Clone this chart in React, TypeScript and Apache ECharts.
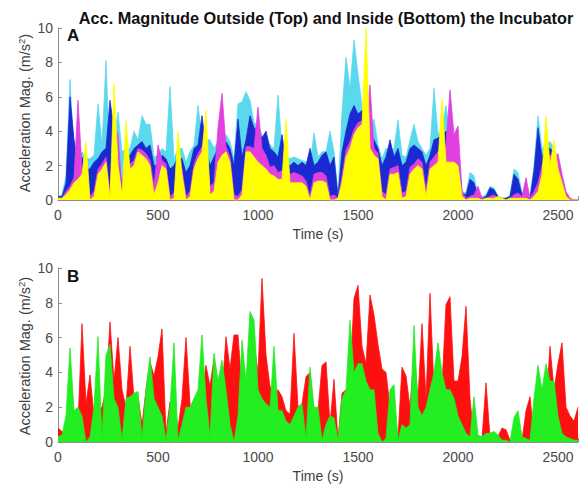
import React, { useEffect, useRef } from "react";
import * as echarts from "echarts";

const SAMPLE_STEP_S = 20;

// Top panel (A): outside the incubator
const yellowA = [
  0.1, 0.1, 0.3, 0.6, 1.0, 1.2, 1.5, 3.4, 0.0, 0.2, 1.5, 1.8, 2.2, 0.1, 6.8, 2.0, 0.3, 4.6, 1.8, 2.0,
  2.8, 2.6, 2.4, 2.0, 0.3, 1.0, 2.0, 1.8, 0.0, 0.1, 4.0, 1.5, 0.0, 0.2, 1.8, 2.4, 2.8, 5.2, 0.3, 0.5,
  2.2, 2.6, 2.8, 2.2, 0.0, 0.0, 0.3, 2.8, 2.8, 2.5, 2.2, 2.0, 1.8, 1.5, 1.4, 1.2, 1.2, 4.7, 1.0, 1.0,
  1.0, 1.0, 0.8, 0.0, 1.0, 1.1, 1.1, 1.0, 0.0, 0.0, 0.1, 1.0, 2.5, 3.0, 3.8, 4.2, 4.4, 10.0, 3.0, 2.6,
  2.4, 0.2, 0.0, 1.5, 1.5, 1.6, 0.1, 0.2, 1.5, 1.8, 2.0, 1.8, 0.2, 1.8, 2.0, 2.2, 5.9, 2.2, 2.2, 2.2,
  2.0, 0.2, 0.0, 0.1, 0.1, 0.1, 0.0, 0.1, 0.1, 0.1, 0.2, 0.1, 0.0, 0.1, 0.1, 0.1, 0.1, 0.1, 0.0, 0.2,
  0.5, 1.5, 4.9, 2.0, 3.5, 1.8, 1.0, 0.2, 0.0, 0.0, 0.0,
];
const magentaA = [
  0.1, 0.1, 0.5, 0.8, 1.3, 5.8, 1.8, 1.0, 0.2, 0.5, 1.8, 2.1, 2.5, 0.4, 4.4, 3.8, 0.5, 1.5, 2.1, 2.3,
  3.0, 2.9, 2.7, 2.3, 0.8, 3.2, 2.3, 2.1, 0.2, 0.4, 1.5, 1.8, 0.2, 0.5, 2.1, 2.7, 3.1, 2.8, 0.8, 1.0,
  4.2, 6.2, 3.1, 2.5, 0.3, 0.2, 0.6, 3.1, 3.1, 3.0, 5.4, 3.0, 2.6, 1.9, 2.0, 1.6, 1.7, 1.6, 1.5, 1.6,
  1.5, 1.4, 1.1, 0.2, 1.5, 1.6, 1.6, 1.4, 0.2, 0.3, 0.1, 1.4, 2.9, 3.4, 4.1, 4.5, 4.6, 4.2, 6.7, 3.0,
  2.7, 0.5, 0.3, 1.8, 1.9, 2.0, 0.4, 0.5, 1.9, 2.1, 2.4, 2.2, 0.6, 2.2, 2.5, 2.8, 3.0, 3.2, 6.4, 3.8,
  4.3, 0.5, 0.1, 0.2, 0.3, 0.8, 0.1, 0.1, 0.2, 0.3, 0.1, 0.1, 0.0, 0.1, 0.3, 0.4, 0.2, 1.3, 0.1, 0.5,
  1.0, 2.0, 2.5, 2.6, 2.4, 2.7, 1.5, 0.5, 0.1, 0.0, 0.0,
];
const blueA = [
  0.2, 0.2, 1.0, 6.0, 3.5, 2.0, 2.5, 1.8, 1.8, 2.2, 2.4, 2.8, 3.0, 5.8, 4.1, 2.5, 0.8, 2.5, 2.6, 3.0,
  3.2, 3.4, 3.0, 3.2, 2.0, 2.0, 2.6, 2.4, 1.8, 2.0, 2.5, 2.4, 1.6, 2.0, 3.0, 3.2, 4.9, 3.0, 2.0, 2.5,
  3.0, 3.2, 3.4, 3.0, 2.0, 4.7, 2.5, 3.5, 4.9, 4.2, 4.0, 3.6, 4.0, 3.0, 2.8, 2.5, 3.8, 2.2, 2.0, 2.2,
  2.0, 2.2, 2.0, 3.0, 2.0, 2.2, 2.6, 2.8, 2.0, 2.5, 0.2, 2.8, 4.0, 5.0, 5.5, 5.0, 5.2, 4.5, 3.8, 3.5,
  3.0, 2.0, 2.5, 3.5, 2.5, 3.0, 2.0, 2.2, 3.0, 3.2, 3.0, 2.8, 2.0, 2.6, 3.5, 3.6, 3.8, 4.0, 3.5, 3.0,
  2.8, 0.4, 0.3, 1.2, 1.0, 0.2, 0.1, 0.2, 0.7, 0.6, 0.2, 0.1, 0.1, 0.2, 1.5, 1.2, 0.3, 0.3, 0.1, 1.7,
  4.2, 2.5, 3.0, 3.0, 2.8, 2.2, 1.0, 0.3, 0.0, 0.0, 0.0,
];
const cyanA = [
  0.2, 0.3, 1.4, 7.0, 2.5, 2.4, 2.8, 2.4, 2.4, 2.6, 5.6, 3.2, 8.1, 2.0, 3.5, 5.1, 2.8, 3.0, 3.0, 4.0,
  3.5, 4.9, 4.4, 4.4, 2.5, 2.6, 3.0, 2.8, 6.6, 2.4, 3.0, 3.0, 2.2, 2.8, 3.2, 5.5, 3.6, 3.5, 3.5, 3.0,
  3.4, 3.6, 3.8, 3.4, 2.4, 5.6, 5.7, 6.3, 5.8, 4.5, 4.3, 3.8, 3.6, 3.2, 3.0, 6.1, 3.0, 2.6, 2.4, 2.5,
  2.4, 2.3, 2.2, 2.0, 3.9, 2.5, 2.8, 2.8, 4.0, 2.8, 0.3, 5.1, 8.3, 6.5, 9.3, 7.3, 5.5, 5.0, 4.0, 4.7,
  3.2, 2.4, 3.0, 2.8, 3.0, 4.65, 2.6, 2.5, 3.5, 4.4, 3.4, 3.0, 2.6, 3.0, 6.5, 3.8, 4.2, 5.5, 3.8, 3.2,
  3.0, 0.5, 0.4, 1.6, 1.4, 0.3, 0.2, 0.3, 0.8, 0.7, 0.2, 0.1, 0.1, 0.3, 1.8, 1.6, 0.4, 0.4, 0.2, 2.0,
  4.9, 3.0, 3.2, 3.4, 3.0, 2.4, 1.2, 0.4, 0.1, 0.0, 0.0,
];

// Bottom panel (B): inside the incubator
const redB = [
  0.8, 0.6, 0.4, 0.5, 0.8, 1.0, 6.8, 2.2, 3.85, 1.5, 1.8, 2.0, 3.0, 6.9, 3.5, 6.0, 3.0, 2.0, 5.5, 2.5,
  2.6, 1.0, 3.0, 4.6, 3.8, 4.9, 6.5, 0.5, 2.3, 2.0, 0.8, 2.5, 6.0, 2.2, 1.0, 2.5, 2.8, 4.4, 3.2, 4.8,
  3.0, 2.8, 6.05, 4.2, 6.15, 6.15, 3.0, 2.8, 3.0, 5.7, 4.0, 9.4, 5.0, 3.2, 2.8, 3.0, 2.6, 1.8, 1.6, 6.25,
  2.0, 2.2, 3.75, 4.0, 1.5, 1.8, 4.4, 4.6, 1.0, 3.6, 0.1, 2.8, 3.0, 3.5, 8.25, 9.0, 5.5, 4.5, 8.45, 7.3,
  5.6, 4.2, 4.0, 2.0, 1.5, 0.3, 4.3, 3.8, 2.0, 5.0, 2.5, 6.8, 2.5, 8.55, 3.0, 3.0, 3.2, 7.9, 8.35, 3.5,
  3.5, 4.9, 7.8, 2.5, 0.2, 0.3, 0.2, 3.4, 0.3, 0.2, 0.3, 0.8, 0.7, 0.1, 0.1, 0.2, 0.1, 1.8, 2.6, 0.3,
  1.0, 1.5, 2.0, 5.5, 3.0, 4.5, 5.7, 2.0, 1.5, 1.2, 2.0,
];
const greenB = [
  0.3, 0.4, 1.5, 5.4, 1.8, 2.0, 1.5, 0.0, 0.3, 2.0, 6.05, 0.2, 5.0, 5.6, 2.5, 2.0, 0.1, 2.5, 2.6, 2.8,
  2.9, 0.2, 3.0, 4.9, 2.5, 2.0, 1.5, 0.1, 2.0, 5.7, 0.1, 1.0, 2.0, 2.0, 2.5, 3.0, 6.15, 2.5, 0.3, 5.1,
  3.5, 4.7, 3.0, 1.0, 0.0, 1.5, 5.85, 3.5, 7.5, 7.0, 3.0, 2.5, 2.2, 2.0, 5.5, 1.8, 1.8, 1.2, 1.0, 1.5,
  2.0, 2.2, 0.2, 4.3, 2.0, 2.0, 0.1, 1.0, 1.5, 1.4, 0.1, 2.5, 3.0, 7.0, 4.0, 4.5, 4.5, 3.5, 3.0, 3.0,
  0.5, 0.0, 0.2, 3.0, 3.3, 0.1, 1.0, 0.8, 1.0, 6.7, 2.0, 1.5, 2.0, 3.0, 4.0, 5.7, 4.0, 3.0, 3.0, 2.5,
  1.5, 1.0, 0.5, 0.3, 2.6, 0.4, 0.3, 0.5, 0.5, 0.6, 0.4, 0.1, 0.1, 0.0, 1.4, 1.8, 0.3, 0.2, 0.1, 2.5,
  4.4, 3.0, 4.5, 3.5, 3.5, 1.5, 0.5, 0.3, 0.2, 0.1, 0.1,
];

const xTicks = [0, 500, 1000, 1500, 2000, 2500];
const yTicks = [0, 2, 4, 6, 8, 10];

const TITLE = "Acc. Magnitude Outside (Top) and Inside (Bottom) the Incubator";
const X_NAME = "Time (s)";
const Y_NAME_RICH = "{n|Acceleration Mag. (m/s}{s|2}{n|)}";

const FONT = "Arial, 'Liberation Sans', Helvetica, sans-serif";

function pair(values: number[]) {
  return values.map((v, i) => [i * SAMPLE_STEP_S, v]);
}

export default function App() {
  const ref = useRef<HTMLDivElement>(null);
  useEffect(() => {
    if (!ref.current) return;
    const chart = echarts.init(ref.current, undefined, { renderer: "svg" });
    const xMax = 2600;
    const mkX = (gridIndex: number) => ({
      type: "value",
      gridIndex,
      min: xTicks[0],
      max: xMax,
      interval: xTicks[1] - xTicks[0],
      name: X_NAME,
      nameLocation: "middle",
      nameGap: 27,
      nameTextStyle: { fontFamily: FONT, fontSize: 14, color: "#404040" },
      axisLine: { show: true, lineStyle: { color: "#8c8c8c", width: 1 } },
      axisTick: { show: true, inside: true, length: 4, lineStyle: { color: "#8c8c8c" } },
      axisLabel: {
        fontFamily: FONT,
        fontSize: 14,
        color: "#4a4a4a",
        margin: 8,
        formatter: (v: number) => (xTicks.includes(v) ? String(v) : ""),
      },
      splitLine: { show: false },
    });
    const mkY = (gridIndex: number) => ({
      type: "value",
      gridIndex,
      min: yTicks[0],
      max: yTicks[yTicks.length - 1],
      interval: yTicks[1] - yTicks[0],
      axisLine: { show: true, lineStyle: { color: "#8c8c8c", width: 1 } },
      axisTick: { show: true, inside: true, length: 4, lineStyle: { color: "#8c8c8c" } },
      axisLabel: { fontFamily: FONT, fontSize: 14, color: "#4a4a4a", margin: 5 },
      splitLine: { show: false },
    });
    const area = (name: string, data: number[], color: string, idx: number, z: number) => ({
      name,
      type: "line",
      z,
      xAxisIndex: idx,
      yAxisIndex: idx,
      data: pair(data),
      symbol: "none",
      lineStyle: { color, width: 0.8 },
      itemStyle: { color },
      areaStyle: { color, opacity: 1, origin: "start" },
      silent: true,
    });
    const yName = (cy: number) => ({
      type: "text",
      x: 25,
      y: cy,
      rotation: Math.PI / 2,
      z: 10,
      style: {
        text: Y_NAME_RICH,
        align: "center",
        verticalAlign: "middle",
        rich: {
          n: { fontFamily: FONT, fontSize: 14.5, fill: "#404040", lineHeight: 18 },
          s: { fontFamily: FONT, fontSize: 9.5, fill: "#404040", verticalAlign: "top", lineHeight: 10 },
        },
      },
    });
    chart.setOption({
      animation: false,
      backgroundColor: "#ffffff",
      title: {
        text: TITLE,
        left: 321,
        textAlign: "center",
        top: 5,
        textStyle: { fontFamily: FONT, fontSize: 16.3, fontWeight: "bold", color: "#111" },
      },
      grid: [
        { left: 58, right: -9, top: 28, height: 172 },
        { left: 58, right: -9, top: 268, height: 174 },
      ],
      xAxis: [mkX(0), mkX(1)],
      yAxis: [mkY(0), mkY(1)],
      series: [
        area("cyan", cyanA, "#5ad8ee", 0, 2),
        area("blue", blueA, "#1a2ad0", 0, 3),
        area("magenta", magentaA, "#e040e0", 0, 4),
        area("yellow", yellowA, "#ffff00", 0, 5),
        area("red", redB, "#ff1010", 1, 2),
        area("green", greenB, "#22ee22", 1, 3),
      ],
      graphic: [
        yName(113),
        yName(356),
        { type: "text", left: 67, top: 27, z: 10, style: { text: "A", fontFamily: FONT, fontSize: 17, fontWeight: "bold", fill: "#111" } },
        { type: "text", left: 67, top: 268, z: 10, style: { text: "B", fontFamily: FONT, fontSize: 17, fontWeight: "bold", fill: "#111" } },
      ],
    });
    return () => chart.dispose();
  }, []);
  return (
    <div
      ref={ref}
      style={{ position: "fixed", left: 0, top: 0, width: 581, height: 484, background: "#fff" }}
    />
  );
}
